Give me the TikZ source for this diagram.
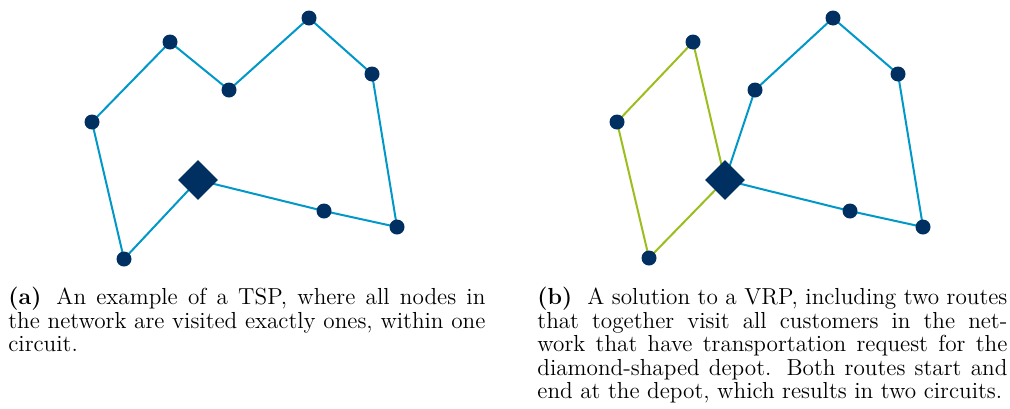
\documentclass[tikz,border=0pt]{standalone}
\usetikzlibrary{shapes.geometric}
\definecolor{nodeblue}{RGB}{0,47,98}
\definecolor{routeblue}{RGB}{0,152,200}
\definecolor{routegreen}{RGB}{155,190,28}

\begin{document}
\begin{tikzpicture}[
    x=0.5pt, y=-0.5pt,
    dot/.style={circle, fill=nodeblue, inner sep=0pt, minimum size=7.5pt},
    depot/.style={diamond, fill=nodeblue, inner sep=0pt, minimum size=20pt},
    route/.style={line width=1pt, draw=#1},
    route/.default=routeblue,
    caption/.style={anchor=north west, inner sep=0pt, text width=#1, align=justify,
        font=\fontsize{11.6pt}{11.75pt}\selectfont}
]
    \useasboundingbox (0,0) rectangle (1010,408);

    % TSP coordinates
    \coordinate (a0) at (198,180);
    \coordinate (a1) at (324,211);
    \coordinate (a2) at (397,227);
    \coordinate (a3) at (372,74);
    \coordinate (a4) at (309,18);
    \coordinate (a5) at (229,90);
    \coordinate (a6) at (170,42);
    \coordinate (a7) at (92,122);
    \coordinate (a8) at (124,259);

    % VRP coordinates
    \coordinate (b0) at (725,180);
    \coordinate (b1) at (850,211);
    \coordinate (b2) at (923,227);
    \coordinate (b3) at (898,74);
    \coordinate (b4) at (833,18);
    \coordinate (b5) at (755,90);
    \coordinate (b6) at (693,42);
    \coordinate (b7) at (617,122);
    \coordinate (b8) at (649,258);

    % TSP circuit
    \draw[route] (a0) -- (a1) -- (a2) -- (a3) -- (a4) -- (a5) -- (a6) -- (a7) -- (a8) -- cycle;

    % VRP routes
    \draw[route] (b0) -- (b1) -- (b2) -- (b3) -- (b4) -- (b5) -- cycle;
    \draw[route=routegreen] (b0) -- (b6) -- (b7) -- (b8) -- cycle;

    % Depots & customers
    \node[depot] (depotA) at (a0) {};
    \node[depot] (depotB) at (b0) {};
    \foreach \i in {1,...,8} {
        \node[dot] (ca\i) at (a\i) {};
        \node[dot] (cb\i) at (b\i) {};
    }

    % Captions
    \node[caption=238.5pt] (capA) at (8,287) {\textbf{(a)}\hspace{0.65em}An example of a TSP, where all nodes in the network are visited exactly ones, within one circuit.};
    \node[caption=235pt] (capB) at (537,287) {\textbf{(b)}\hspace{0.65em}A solution to a VRP, including two routes that together visit all customers in the network that have transportation request for the diamond-shaped depot. Both routes start and end at the depot, which results in two circuits.};

\end{tikzpicture}
\end{document}
